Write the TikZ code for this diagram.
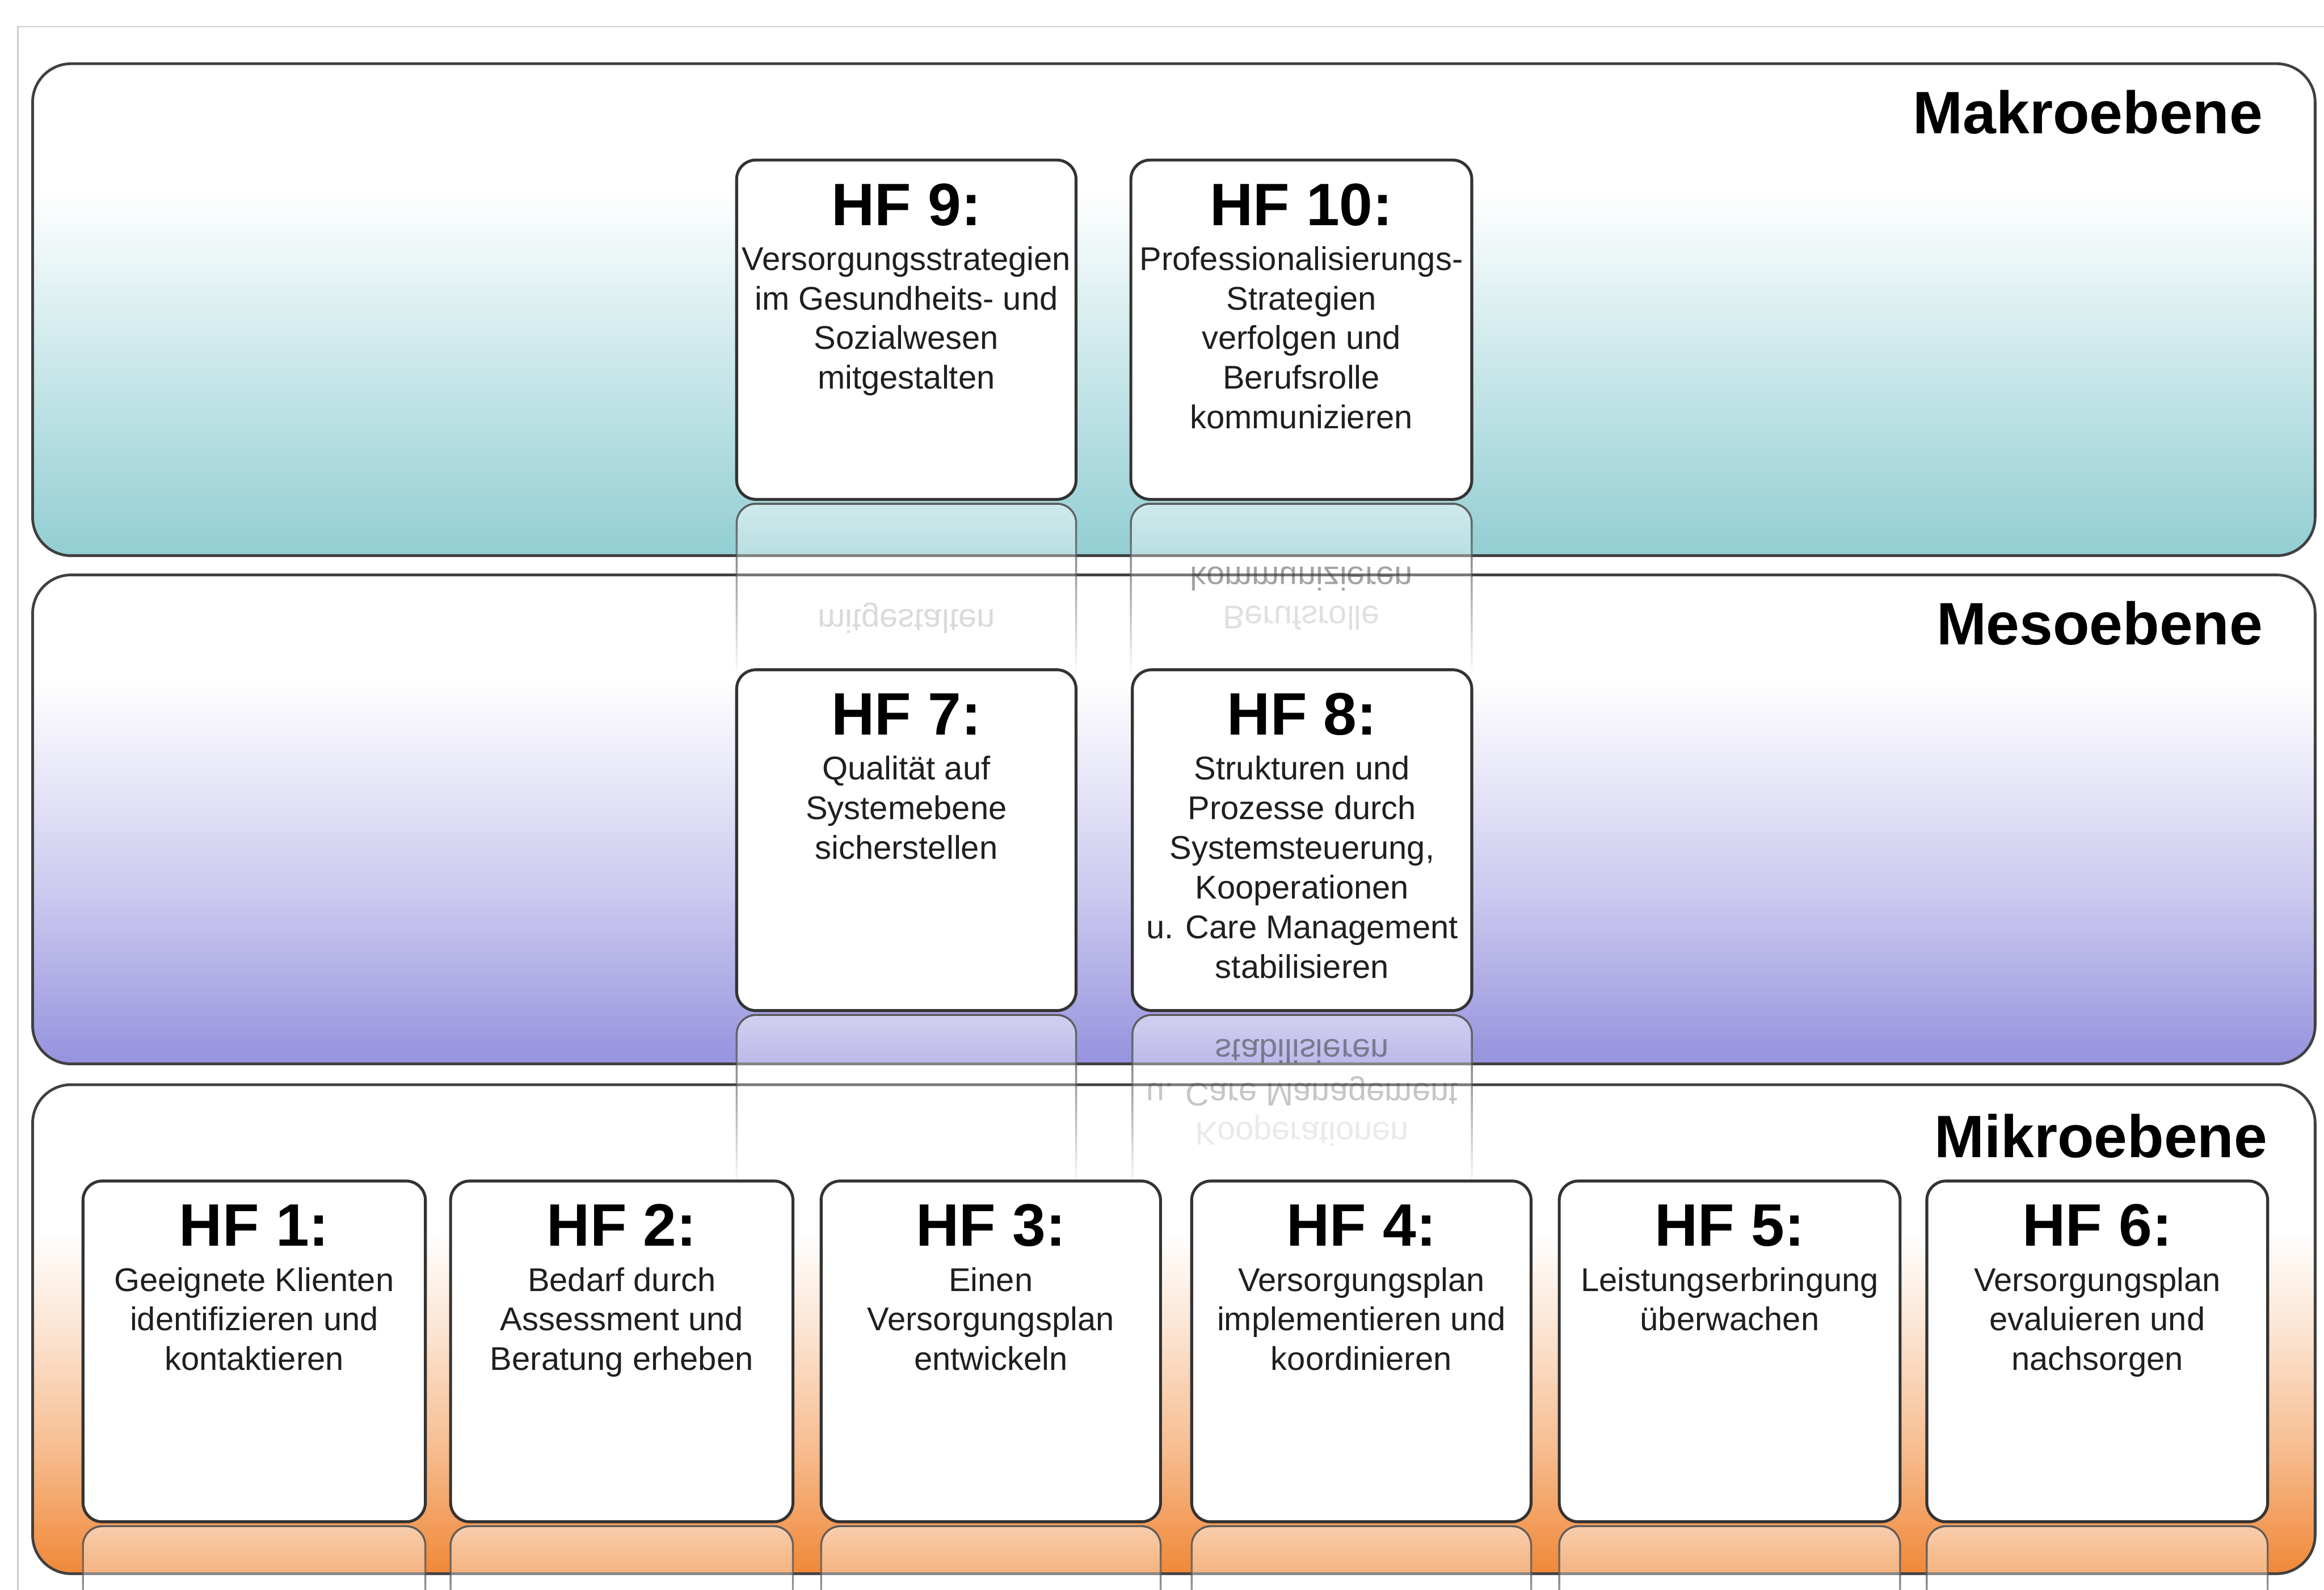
\documentclass[tikz,border=0pt]{standalone}
\usepackage{fontspec}
\setmainfont{Liberation Sans}
\usepackage{graphicx}
\usetikzlibrary{fadings}

\definecolor{makroC}{RGB}{146,206,211}
\definecolor{mesoC}{RGB}{150,146,222}
\definecolor{mikroC}{RGB}{240,136,56}
\definecolor{framegray}{RGB}{205,205,205}

\pgfdeclareverticalshading{makroShade}{100bp}{color(0bp)=(makroC); color(25bp)=(makroC); color(42bp)=(makroC!55!white); color(62bp)=(white); color(100bp)=(white)}
\pgfdeclareverticalshading{mesoShade}{100bp}{color(0bp)=(mesoC); color(25bp)=(mesoC); color(42bp)=(mesoC!50!white); color(64bp)=(white); color(100bp)=(white)}
\pgfdeclareverticalshading{mikroShade}{100bp}{color(0bp)=(mikroC); color(25bp)=(mikroC); color(38bp)=(mikroC!55!white); color(50bp)=(mikroC!22!white); color(60bp)=(white); color(100bp)=(white)}

\tikzfading[name=reflfade, top color=transparent!0, bottom color=transparent!100]

\tikzset{
  panel/.style={draw=black!75, line width=1.4pt, rounded corners=0.7cm},
  hfbox/.style={draw=black!80, line width=1.5pt, fill=white, rounded corners=0.35cm, inner sep=0pt},
  hftitle/.style={font=\fontsize{31}{36}\selectfont\bfseries, anchor=base, inner sep=0pt},
  hfbody/.style={font=\fontsize{17}{20.5}\selectfont, align=center, anchor=north, inner sep=0pt, text=black!88},
  mirror/.style={font=\fontsize{17}{20.5}\selectfont, anchor=center, inner sep=0pt, text=black!80},
  lvl/.style={font=\fontsize{31}{36}\selectfont\bfseries, anchor=base east, inner sep=0pt},
  reflfill/.style={fill=white, fill opacity=0.5, path fading=reflfade, rounded corners=0.35cm},
  refldraw/.style={draw=black!65, line width=1pt, path fading=reflfade, rounded corners=0.35cm}
}

% name, x1, y1, x2, y2, title, body
\newcommand\mkhf[7]{%
  \pgfmathsetmacro\hcx{(#2+#4)/2}%
  \pgfmathsetmacro\hcy{(#3+#5)/2}%
  \pgfmathsetlengthmacro\hw{(#4-#2)*0.02695cm}%
  \pgfmathsetlengthmacro\hh{(#5-#3)*0.02695cm}%
  \pgfmathsetmacro\hty{#3+44}%
  \pgfmathsetmacro\hby{#3+58}%
  \pgfmathsetmacro\rya{#5+3}%
  \pgfmathsetmacro\ryb{#5+3+115}%
  \node[hfbox, minimum width=\hw, minimum height=\hh] (#1) at (\hcx,\hcy) {};
  \node[hftitle] (#1t) at (\hcx,\hty) {#6};
  \node[hfbody] (#1b) at (\hcx,\hby) {#7};
  \path[reflfill] (#2,\rya) rectangle (#4,\ryb);
  \draw[refldraw] (#2,\ryb) -- (#2,\rya) -- (#4,\rya) -- (#4,\ryb);
}

\begin{document}
\begin{tikzpicture}[x=0.02695cm, y=-0.02695cm]
\useasboundingbox (0,0) rectangle (1568,1073);
\clip (0,0) rectangle (1568,1073);
\fill[white] (0,0) rectangle (1568,1073);
\draw[framegray, line width=0.8pt] (12,1090) -- (12,18) -- (1590,18);

% level panels
\shadedraw[panel, shading=makroShade] (22,43) rectangle (1562,375);
\shadedraw[panel, shading=mesoShade] (22,388) rectangle (1562,718);
\shadedraw[panel, shading=mikroShade] (22,732) rectangle (1562,1062);

\node[lvl] (makro) at (1527,90) {Makroebene};
\node[lvl] (meso) at (1527,435) {Mesoebene};
\node[lvl] (mikro) at (1530,781) {Mikroebene};

% Makroebene
\mkhf{hf9}{497}{108}{726}{337}{HF 9:}{Versorgungsstrategien\\im Gesundheits- und\\Sozialwesen\\mitgestalten}
\mkhf{hf10}{763}{108}{993}{337}{HF 10:}{Professionalisierungs-\\Strategien\\verfolgen und\\Berufsrolle\\kommunizieren}
\node[mirror, text opacity=0.18] (hf9m1) at (611.5,417) {\scalebox{1}[-1]{mitgestalten}};
\node[mirror, text opacity=0.45] (hf10m1) at (878,390.5) {\scalebox{1}[-1]{kommunizieren}};
\node[mirror, text opacity=0.15] (hf10m2) at (878,417) {\scalebox{1}[-1]{Berufsrolle}};

% Mesoebene
\mkhf{hf7}{497}{452}{726}{682}{HF 7:}{Qualität auf\\Systemebene\\sicherstellen}
\mkhf{hf8}{764}{452}{993}{682}{HF 8:}{Strukturen und\\Prozesse durch\\Systemsteuerung,\\Kooperationen\\u. Care Management\\stabilisieren}
\node[mirror, text opacity=0.5] (hf8m1) at (878.5,709.5) {\scalebox{1}[-1]{stabilisieren}};
\node[mirror, text opacity=0.28] (hf8m2) at (878.5,736.5) {\scalebox{1}[-1]{u. Care Management}};
\node[mirror, text opacity=0.1] (hf8m3) at (878.5,763) {\scalebox{1}[-1]{Kooperationen}};

% Mikroebene
\mkhf{hf1}{56}{797}{287}{1027}{HF 1:}{Geeignete Klienten\\identifizieren und\\kontaktieren}
\mkhf{hf2}{304}{797}{535}{1027}{HF 2:}{Bedarf durch\\Assessment und\\Beratung erheben}
\mkhf{hf3}{554}{797}{783}{1027}{HF 3:}{Einen\\Versorgungsplan\\entwickeln}
\mkhf{hf4}{804}{797}{1033}{1027}{HF 4:}{Versorgungsplan\\implementieren und\\koordinieren}
\mkhf{hf5}{1052}{797}{1282}{1027}{HF 5:}{Leistungserbringung\\überwachen}
\mkhf{hf6}{1300}{797}{1530}{1027}{HF 6:}{Versorgungsplan\\evaluieren und\\nachsorgen}
\end{tikzpicture}
\end{document}
